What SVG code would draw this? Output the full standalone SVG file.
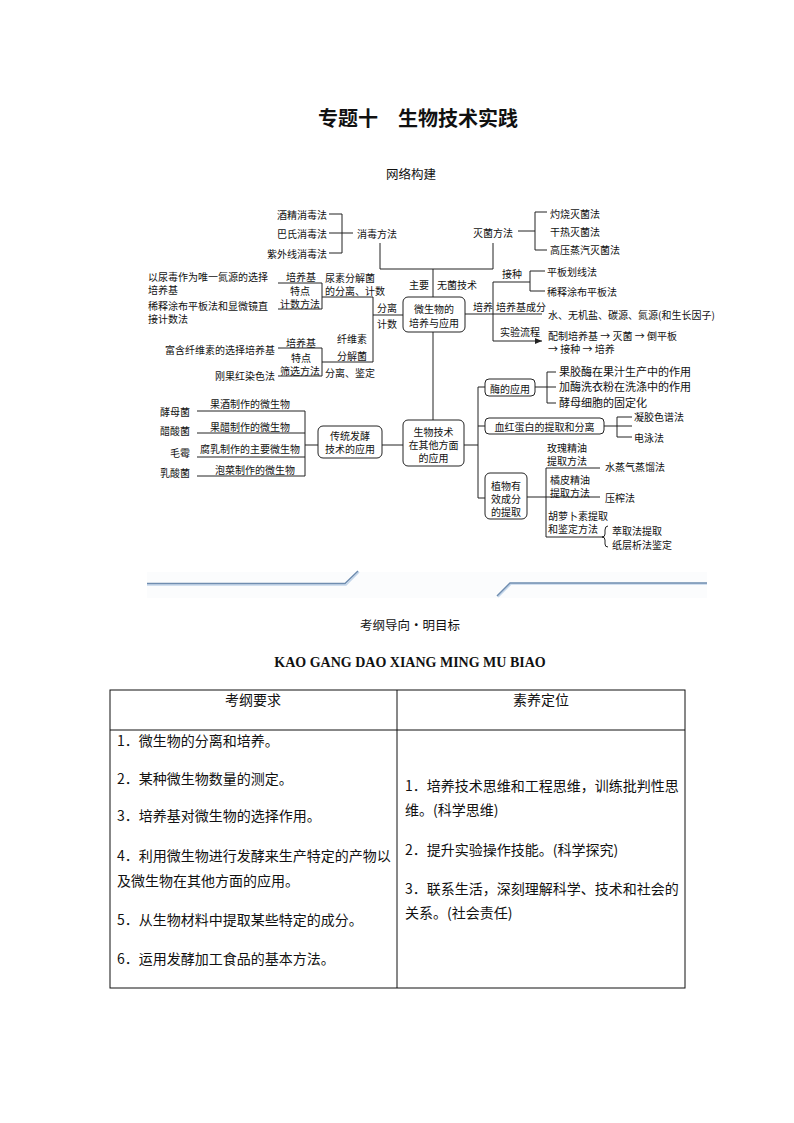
<svg xmlns="http://www.w3.org/2000/svg" width="794" height="1123" viewBox="0 0 794 1123">
<defs>
<style>
.t{font-family:"Noto Sans CJK SC","Noto Sans",sans-serif;font-size:10px;fill:#111;dominant-baseline:central}
.t11{font-size:11px}
.m{text-anchor:middle}
.e{text-anchor:end}
.ln{stroke:#222;stroke-width:1;fill:none}
.box{fill:#fff;stroke:#222;stroke-width:1}
.tb{font-family:"Noto Sans CJK SC","Noto Sans",sans-serif;font-size:14px;fill:#111}
.deco{stroke:#6f8db0;stroke-width:1.5;fill:none}
</style>
<marker id="arr" markerWidth="8" markerHeight="8" refX="7" refY="4" orient="auto" markerUnits="userSpaceOnUse">
<path d="M0,1 L7,4 L0,7 Z" fill="#222"/>
</marker>
</defs>
<rect width="794" height="1123" fill="#fff"/>

<text x="418" y="117" class="t m" style="font-size:20px;font-weight:bold">专题十　生物技术实践</text>
<text x="411" y="173" class="t m" style="font-size:12.5px">网络构建</text>

<g id="connectors">
<path class="ln" d="M329,214 H342 V253 H329 M329,233 H353"/>
<path class="ln" d="M380,243 V269 H493 V243 M433,269 V297"/>
<path class="ln" d="M518,231 H535 M547,212 H535 V250 H547"/>
<path class="ln" d="M493,341 V282 H530 M545,271 H530 V291 H545"/>
<path class="ln" d="M465,314 H542"/>
<path class="ln" d="M493,341 H542" marker-end="url(#arr)"/>
<path class="ln" d="M403,315 H373 M322,297 H373 V362 H322"/>
<path class="ln" d="M278,283 H322 V309 H278"/>
<path class="ln" d="M278,348 H322 V376 H278"/>
<path class="ln" d="M433,332 V420"/>
<path class="ln" d="M382,445 H403 M318,445 H305 M197,411 H305 V476 H197 M197,433 H305 M197,457 H305"/>
<path class="ln" d="M464,445 H478 M485,387 H478 V498 H485 M478,426 H485"/>
<path class="ln" d="M535,387 H556 M556,372 H547 V403 H556"/>
<path class="ln" d="M604,426 H632 M632,417 H617 V437 H632"/>
<path class="ln" d="M527,497 H600 M600,468 H546 V537 H603"/>
<path class="ln" d="M608,526 Q605,526 605,530 V534 Q605,537 602,537 Q605,537 605,540 V544 Q605,547 608,547"/>
</g>

<g id="n-xiaodu">
<text x="327" y="214" class="t e">酒精消毒法</text>
<text x="327" y="233" class="t e">巴氏消毒法</text>
<text x="327" y="253" class="t e">紫外线消毒法</text>
<text x="357" y="233" class="t">消毒方法</text>
</g>
<g id="n-miejun">
<text x="473" y="232" class="t">灭菌方法</text>
<text x="550" y="213" class="t">灼烧灭菌法</text>
<text x="550" y="231" class="t">干热灭菌法</text>
<text x="550" y="249" class="t">高压蒸汽灭菌法</text>
</g>
<g id="n-wujun">
<text x="429" y="284" class="t e">主要</text>
<text x="437" y="284" class="t">无菌技术</text>
</g>
<g id="n-jiezhong">
<text x="502" y="273" class="t">接种</text>
<text x="547" y="271" class="t">平板划线法</text>
<text x="547" y="291" class="t">稀释涂布平板法</text>
</g>
<g id="n-peiyang">
<text x="473" y="306" class="t">培养</text>
<text x="496" y="306" class="t">培养基成分</text>
<text x="548" y="314" class="t">水、无机盐、碳源、氮源(和生长因子)</text>
<text x="500" y="331" class="t">实验流程</text>
<text x="548" y="335" class="t">配制培养基 → 灭菌 → 倒平板</text>
<text x="548" y="348" class="t">→ 接种 → 培养</text>
</g>
<g id="n-weishengwu">
<rect x="403" y="297" width="62" height="35" rx="5" class="box"/>
<text x="434" y="308" class="t m">微生物的</text>
<text x="434" y="322" class="t m">培养与应用</text>
</g>
<g id="n-fenli">
<text x="377" y="307" class="t">分离</text>
<text x="377" y="323" class="t">计数</text>
</g>
<g id="n-niaosu">
<text x="325" y="277" class="t">尿素分解菌</text>
<text x="325" y="290" class="t">的分离、计数</text>
<text x="301" y="276" class="t m">培养基</text>
<text x="300" y="290" class="t m">特点</text>
<text x="300" y="303" class="t m">计数方法</text>
<text x="148" y="276" class="t">以尿毒作为唯一氮源的选择</text>
<text x="148" y="289" class="t">培养基</text>
<text x="148" y="305" class="t">稀释涂布平板法和显微镜直</text>
<text x="148" y="318" class="t">接计数法</text>
</g>
<g id="n-xianwei">
<text x="352" y="338" class="t m">纤维素</text>
<text x="352" y="355" class="t m">分解菌</text>
<text x="325" y="372" class="t">分离、鉴定</text>
<text x="301" y="342" class="t m">培养基</text>
<text x="301" y="357" class="t m">特点</text>
<text x="300" y="370" class="t m">筛选方法</text>
<text x="275" y="349" class="t e">富含纤维素的选择培养基</text>
<text x="275" y="375" class="t e">刚果红染色法</text>
</g>
<g id="n-shengwujishu">
<rect x="403" y="420" width="61" height="46" rx="5" class="box"/>
<text x="433.5" y="431" class="t m">生物技术</text>
<text x="433.5" y="444" class="t m">在其他方面</text>
<text x="433.5" y="457" class="t m">的应用</text>
</g>
<g id="n-chuantong">
<rect x="318" y="426" width="64" height="32" rx="5" class="box"/>
<text x="350" y="435.5" class="t m">传统发酵</text>
<text x="350" y="448.5" class="t m">技术的应用</text>
</g>
<g id="n-fajiao">
<text x="210" y="403" class="t">果酒制作的微生物</text>
<text x="210" y="426" class="t">果醋制作的微生物</text>
<text x="200" y="448" class="t">腐乳制作的主要微生物</text>
<text x="215" y="469" class="t">泡菜制作的微生物</text>
<text x="190" y="411" class="t e">酵母菌</text>
<text x="190" y="430" class="t e">醋酸菌</text>
<text x="190" y="452" class="t e">毛霉</text>
<text x="190" y="472" class="t e">乳酸菌</text>
</g>
<g id="n-mei">
<rect x="485" y="379" width="50" height="17" rx="4" class="box"/>
<text x="510" y="388" class="t m">酶的应用</text>
<text x="559" y="371" class="t t11">果胶酶在果汁生产中的作用</text>
<text x="559" y="386" class="t t11">加酶洗衣粉在洗涤中的作用</text>
<text x="559" y="402" class="t t11">酵母细胞的固定化</text>
</g>
<g id="n-xuehong">
<rect x="485" y="418" width="119" height="16" rx="4" class="box"/>
<text x="544.5" y="426" class="t m">血红蛋白的提取和分离</text>
<text x="634" y="416" class="t">凝胶色谱法</text>
<text x="634" y="437" class="t">电泳法</text>
</g>
<g id="n-zhiwu">
<rect x="485" y="473" width="42" height="46" rx="5" class="box"/>
<text x="506" y="485" class="t m">植物有</text>
<text x="506" y="498" class="t m">效成分</text>
<text x="506" y="511" class="t m">的提取</text>
<text x="547" y="447" class="t">玫瑰精油</text>
<text x="547" y="460" class="t">提取方法</text>
<text x="605" y="466" class="t">水蒸气蒸馏法</text>
<text x="550" y="479" class="t">橘皮精油</text>
<text x="550" y="492" class="t">提取方法</text>
<text x="605" y="497" class="t">压榨法</text>
<text x="548" y="515" class="t">胡萝卜素提取</text>
<text x="548" y="528" class="t">和鉴定方法</text>
<text x="612" y="530" class="t">萃取法提取</text>
<text x="612" y="544" class="t">纸层析法鉴定</text>
</g>

<rect x="147" y="572" width="560" height="26" fill="#fbfcfd"/>
<path d="M147,585 H346 L359,572" stroke="#c3d5ea" stroke-width="1.5" fill="none"/>
<path d="M147,583.5 H345 L358,571" class="deco"/>
<path d="M498,597 L511,584 H707" stroke="#c3d5ea" stroke-width="1.5" fill="none"/>
<path d="M497,596 L510,583 H707" class="deco"/>

<text x="410" y="624" class="t m" style="font-size:12.5px">考纲导向·明目标</text>
<text x="410" y="667" text-anchor="middle" style="font-family:'Liberation Serif',serif;font-size:14px;font-weight:bold;fill:#111">KAO GANG DAO XIANG MING MU BIAO</text>

<g id="table">
<rect x="110" y="690" width="575" height="298" fill="none" stroke="#111" stroke-width="1"/>
<path d="M110,730 H685 M397,690 V988" stroke="#111" stroke-width="1" fill="none"/>
<text x="253" y="705" text-anchor="middle" class="tb">考纲要求</text>
<text x="541" y="705" text-anchor="middle" class="tb">素养定位</text>
<text x="117" y="746" class="tb">1．微生物的分离和培养。</text>
<text x="117" y="784" class="tb">2．某种微生物数量的测定。</text>
<text x="117" y="821" class="tb">3．培养基对微生物的选择作用。</text>
<text x="117" y="861" class="tb">4．利用微生物进行发酵来生产特定的产物以</text>
<text x="117" y="886" class="tb">及微生物在其他方面的应用。</text>
<text x="117" y="925" class="tb">5．从生物材料中提取某些特定的成分。</text>
<text x="117" y="964" class="tb">6．运用发酵加工食品的基本方法。</text>
<text x="405" y="791" class="tb">1．培养技术思维和工程思维，训练批判性思</text>
<text x="405" y="815" class="tb">维。(科学思维)</text>
<text x="405" y="855" class="tb">2．提升实验操作技能。(科学探究)</text>
<text x="405" y="894" class="tb">3．联系生活，深刻理解科学、技术和社会的</text>
<text x="405" y="918" class="tb">关系。(社会责任)</text>
</g>
</svg>
